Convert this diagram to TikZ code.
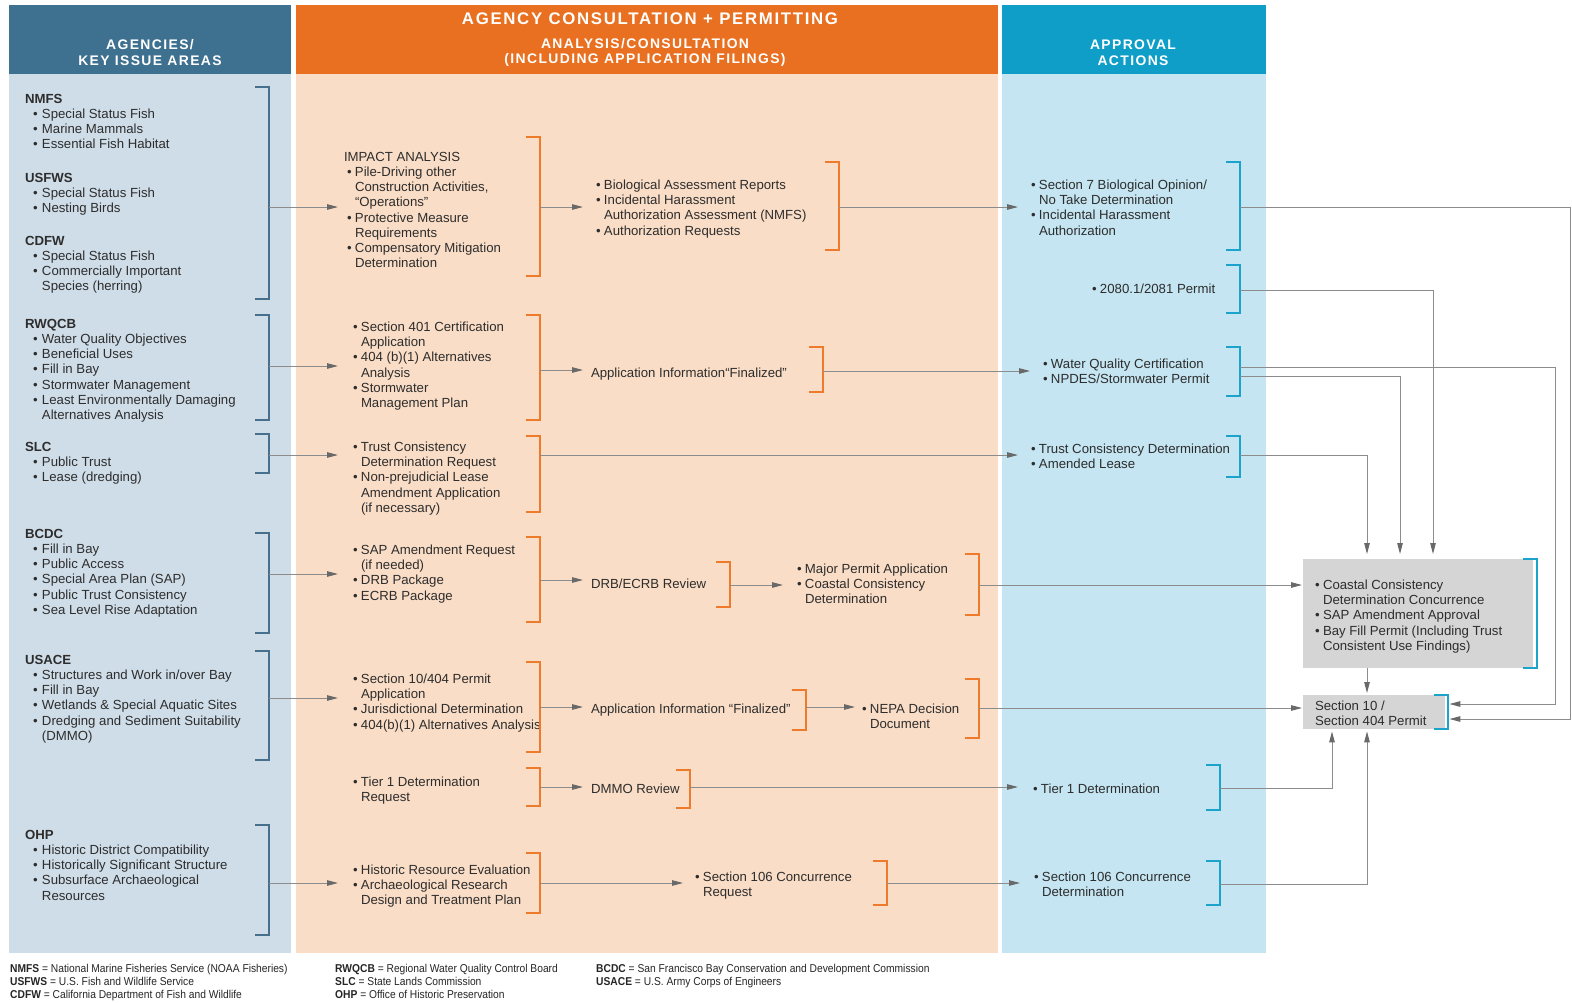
\documentclass[tikz,border=0pt]{standalone}
\usepackage{fontspec}
\setmainfont{Liberation Sans}
\newfontfamily\hdrfont[LetterSpace=10]{Liberation Sans}
\newfontfamily\legfont[FakeStretch=0.9]{Liberation Sans}
\usetikzlibrary{arrows.meta}
\definecolor{hdrL}{RGB}{62,112,143}
\definecolor{bodyL}{RGB}{207,221,232}
\definecolor{hdrM}{RGB}{232,112,32}
\definecolor{bodyM}{RGB}{250,221,198}
\definecolor{hdrR}{RGB}{14,158,199}
\definecolor{bodyR}{RGB}{196,229,241}
\definecolor{brLc}{RGB}{70,112,142}
\definecolor{brOc}{RGB}{238,122,44}
\definecolor{brTc}{RGB}{28,163,204}
\definecolor{boxg}{RGB}{213,213,213}
\definecolor{linec}{RGB}{140,140,140}
\definecolor{arrc}{RGB}{105,105,105}
\definecolor{txtc}{RGB}{45,45,45}
\newcommand{\bu}{\makebox[8pt][l]{\textbullet}}
\newcommand{\cu}{\hspace*{8pt}}
\newcommand{\ib}{\hspace*{8pt}\makebox[9pt][l]{\textbullet}}
\newcommand{\ic}{\hspace*{17pt}}
\newcommand{\brk}[4]{\draw[#1] (#2-14,#3) -- (#2,#3) -- (#2,#4) -- (#2-14,#4);}
\tikzset{
  txt/.style={anchor=north west,inner sep=0pt,outer sep=0pt,align=left,text=txtc,yshift=-2pt,font=\fontsize{13.2}{15.2}\selectfont},
  hdr/.style={text=white,align=center,inner sep=0pt,font=\hdrfont\bfseries\fontsize{13.9}{15.5}\selectfont},
  brL/.style={draw=brLc,line width=2pt},
  brO/.style={draw=brOc,line width=2.5pt},
  brT/.style={draw=brTc,line width=2.5pt},
  con/.style={draw=linec,line width=1pt},
  arr/.style={con,-{Triangle[length=11pt,width=5.5pt,color=arrc]},shorten >=13pt},
  gbox/.style={fill=boxg,draw=none,anchor=north west,inner sep=0pt},
  leg/.style={anchor=north west,inner sep=0pt,align=left,text=black!85,font=\legfont\fontsize{11.4}{13}\selectfont}
}
\begin{document}
\begin{tikzpicture}[x=1pt,y=-1pt]
\useasboundingbox (0,0) rectangle (1572,1002);
\fill[white] (0,0) rectangle (1572,1002);
% columns
\fill[hdrL] (9,5) rectangle (291,74);
\fill[bodyL] (9,74) rectangle (291,953);
\fill[hdrM] (296,5) rectangle (998,74);
\fill[bodyM] (296,74) rectangle (998,953);
\fill[hdrR] (1002,5) rectangle (1266,74);
\fill[bodyR] (1002,74) rectangle (1266,953);
% headers
\node[hdr] (hL) at (150,52.5) {AGENCIES/\\KEY ISSUE AREAS};
\node[hdr,font=\hdrfont\bfseries\fontsize{16.8}{18}\selectfont] (hM0) at (650,19) {AGENCY CONSULTATION + PERMITTING};
\node[hdr] (hM) at (645,52.5) {ANALYSIS/CONSULTATION\\(INCLUDING APPLICATION FILINGS)};
\node[hdr] (hR) at (1133,52.5) {APPROVAL\\ACTIONS};

% left column
\node[txt] (nmfs) at (25,92) {\textbf{NMFS}\\\ib Special Status Fish\\\ib Marine Mammals\\\ib Essential Fish Habitat};
\node[txt] (usfws) at (25,171) {\textbf{USFWS}\\\ib Special Status Fish\\\ib Nesting Birds};
\node[txt] (cdfw) at (25,234) {\textbf{CDFW}\\\ib Special Status Fish\\\ib Commercially Important\\\ic Species (herring)};
\node[txt] (rwqcb) at (25,317) {\textbf{RWQCB}\\\ib Water Quality Objectives\\\ib Beneficial Uses\\\ib Fill in Bay\\\ib Stormwater Management\\\ib Least Environmentally Damaging\\\ic Alternatives Analysis};
\node[txt] (slc) at (25,440) {\textbf{SLC}\\\ib Public Trust\\\ib Lease (dredging)};
\node[txt] (bcdc) at (25,527) {\textbf{BCDC}\\\ib Fill in Bay\\\ib Public Access\\\ib Special Area Plan (SAP)\\\ib Public Trust Consistency\\\ib Sea Level Rise Adaptation};
\node[txt] (usace) at (25,653) {\textbf{USACE}\\\ib Structures and Work in/over Bay\\\ib Fill in Bay\\\ib Wetlands \& Special Aquatic Sites\\\ib Dredging and Sediment Suitability\\\ic (DMMO)};
\node[txt] (ohp) at (25,828) {\textbf{OHP}\\\ib Historic District Compatibility\\\ib Historically Significant Structure\\\ib Subsurface Archaeological\\\ic Resources};
\brk{brL}{269}{87}{299}
\brk{brL}{269}{315}{420}
\brk{brL}{269}{434}{473}
\brk{brL}{269}{533}{633}
\brk{brL}{269}{651}{760}
\brk{brL}{269}{825}{935}
\coordinate (b1) at (269,207);
\coordinate (b2) at (269,366);
\coordinate (b3) at (269,455);
\coordinate (b4) at (269,574);
\coordinate (b5) at (269,698);
\coordinate (b6) at (269,883);

% middle column, first level
\node[txt] (imp) at (344,150) {IMPACT ANALYSIS\\\hspace*{3pt}\bu Pile-Driving other\\\hspace*{11pt}Construction Activities,\\\hspace*{11pt}“Operations”\\\hspace*{3pt}\bu Protective Measure\\\hspace*{11pt}Requirements\\\hspace*{3pt}\bu Compensatory Mitigation\\\hspace*{11pt}Determination};
\node[txt] (s401) at (353,320) {\bu Section 401 Certification\\\cu Application\\\bu 404 (b)(1) Alternatives\\\cu Analysis\\\bu Stormwater\\\cu Management Plan};
\node[txt] (trust) at (353,440) {\bu Trust Consistency\\\cu Determination Request\\\bu Non-prejudicial Lease\\\cu Amendment Application\\\cu (if necessary)};
\node[txt] (sap) at (353,543) {\bu SAP Amendment Request\\\cu (if needed)\\\bu DRB Package\\\bu ECRB Package};
\node[txt] (s10) at (353,672) {\bu Section 10/404 Permit\\\cu Application\\\bu Jurisdictional Determination\\\bu 404(b)(1) Alternatives Analysis};
\node[txt] (tier) at (353,775) {\bu Tier 1 Determination\\\cu Request};
\node[txt] (hist) at (353,863) {\bu Historic Resource Evaluation\\\bu Archaeological Research\\\cu Design and Treatment Plan};
\brk{brO}{540}{137}{276}
\brk{brO}{540}{315}{420}
\brk{brO}{540}{436}{512}
\brk{brO}{540}{537}{622}
\brk{brO}{540}{662}{752}
\brk{brO}{540}{768}{806}
\brk{brO}{540}{853}{913}
\coordinate (o1) at (540,207);
\coordinate (o2) at (540,370);
\coordinate (o3) at (540,455);
\coordinate (o4) at (540,580);
\coordinate (o5) at (540,707);
\coordinate (o6) at (540,787);
\coordinate (o7) at (540,883);

% middle column, second level
\node[txt] (bio) at (596,178) {\bu Biological Assessment Reports\\\bu Incidental Harassment\\\cu Authorization Assessment (NMFS)\\\bu Authorization Requests};
\node[txt] (app1) at (591,366) {Application Information“Finalized”};
\node[txt] (drb) at (591,577) {DRB/ECRB Review};
\node[txt] (major) at (797,562) {\bu Major Permit Application\\\bu Coastal Consistency\\\cu Determination};
\node[txt] (app2) at (591,702) {Application Information “Finalized”};
\node[txt] (nepa) at (862,702) {\bu NEPA Decision\\\cu Document};
\node[txt] (dmmo) at (591,782) {DMMO Review};
\node[txt] (s106r) at (695,870) {\bu Section 106 Concurrence\\\cu Request};
\brk{brO}{839}{162}{250}
\brk{brO}{823}{347}{392}
\brk{brO}{730}{562}{607}
\brk{brO}{979}{554}{615}
\brk{brO}{806}{690}{730}
\brk{brO}{979}{679}{738}
\brk{brO}{690}{770}{808}
\brk{brO}{887}{861}{905}
\coordinate (o8) at (839,207);
\coordinate (o9) at (823,371);
\coordinate (o10) at (730,585);
\coordinate (o11) at (979,585);
\coordinate (o12) at (806,707);
\coordinate (o13) at (979,708);
\coordinate (o14) at (690,787);
\coordinate (o15) at (887,883);

% right column
\node[txt] (bo) at (1031,178) {\bu Section 7 Biological Opinion/\\\cu No Take Determination\\\bu Incidental Harassment\\\cu Authorization};
\node[txt] (perm) at (1092,282) {\bu 2080.1/2081 Permit};
\node[txt] (wq) at (1043,357) {\bu Water Quality Certification\\\bu NPDES/Stormwater Permit};
\node[txt] (trd) at (1031,442) {\bu Trust Consistency Determination\\\bu Amended Lease};
\node[txt] (t1d) at (1033,782) {\bu Tier 1 Determination};
\node[txt] (s106d) at (1034,870) {\bu Section 106 Concurrence\\\cu Determination};
\brk{brT}{1240}{162}{250}
\brk{brT}{1240}{265}{313}
\brk{brT}{1240}{347}{396}
\brk{brT}{1240}{436}{477}
\brk{brT}{1220}{765}{810}
\brk{brT}{1220}{861}{905}
\coordinate (t1) at (1240,207);
\coordinate (t2) at (1240,290);
\coordinate (t3a) at (1240,367);
\coordinate (t3b) at (1240,376);
\coordinate (t4) at (1240,455);
\coordinate (t5) at (1220,788);
\coordinate (t6) at (1220,884);

% grey boxes
\node[gbox,minimum width=230,minimum height=109] (bay) at (1303,559) {};
\node[txt] (baytxt) at (1315,578) {\bu Coastal Consistency\\\cu Determination Concurrence\\\bu SAP Amendment Approval\\\bu Bay Fill Permit (Including Trust\\\cu Consistent Use Findings)};
\brk{brT}{1537}{559}{668}
\node[gbox,minimum width=142,minimum height=34] (sec10) at (1303,695) {};
\node[txt] (sec10txt) at (1315,699) {Section 10 /\\Section 404 Permit};
\brk{brT}{1448}{695}{729}

% connectors left -> middle
\draw[arr,shorten >=6pt] (b1) -- (b1 -| imp.west);
\draw[arr,shorten >=15pt] (b2) -- (b2 -| s401.west);
\draw[arr,shorten >=15pt] (b3) -- (b3 -| trust.west);
\draw[arr,shorten >=15pt] (b4) -- (b4 -| sap.west);
\draw[arr,shorten >=15pt] (b5) -- (b5 -| s10.west);
\draw[arr,shorten >=15pt] (b6) -- (b6 -| hist.west);
% middle internal
\draw[arr] (o1) -- (o1 -| bio.west);
\draw[arr,shorten >=8pt] (o2) -- (o2 -| app1.west);
\draw[arr,shorten >=8pt] (o4) -- (o4 -| drb.west);
\draw[arr,shorten >=14pt] (o10) -- (o10 -| major.west);
\draw[arr,shorten >=8pt] (o5) -- (o5 -| app2.west);
\draw[arr,shorten >=7pt] (o12) -- (o12 -| nepa.west);
\draw[arr,shorten >=8pt] (o6) -- (o6 -| dmmo.west);
\draw[arr,shorten >=12pt] (o7) -- (o7 -| s106r.west);
% middle -> right
\draw[arr] (o3) -- (o3 -| trd.west);
\draw[arr] (o8) -- (o8 -| bo.west);
\draw[arr] (o9) -- (o9 -| wq.west);
\draw[arr,shorten >=15pt] (o14) -- (o14 -| t1d.west);
\draw[arr,shorten >=14pt] (o15) -- (o15 -| s106d.west);
\draw[arr,shorten >=1pt] (o11) -- (o11 -| bay.west);
\draw[arr,shorten >=1pt] (o13) -- (o13 -| sec10.west);
% right -> grey boxes
\draw[arr,shorten >=4pt] (t1) -| (1570,719) -- (sec10.east |- 0,719);
\draw[arr,shorten >=4pt] (t3a) -| (1555,704) -- (sec10.east |- 0,704);
\draw[arr,shorten >=5pt] (t2) -| (1433,0 |- bay.north);
\draw[arr,shorten >=5pt] (t3b) -| (1400,0 |- bay.north);
\draw[arr,shorten >=5pt] (t4) -| (1367,0 |- bay.north);
\draw[arr,shorten >=2pt] (1367,0 |- bay.south) -- (1367,0 |- sec10.north);
\draw[arr,shorten >=2pt] (t5) -| (1332,0 |- sec10.south);
\draw[arr,shorten >=2pt] (t6) -| (1367,0 |- sec10.south);

% legend
\node[leg] (leg1) at (10,964) {\textbf{NMFS} = National Marine Fisheries Service (NOAA Fisheries)\\\textbf{USFWS} = U.S. Fish and Wildlife Service\\\textbf{CDFW} = California Department of Fish and Wildlife};
\node[leg] (leg2) at (335,964) {\textbf{RWQCB} = Regional Water Quality Control Board\\\textbf{SLC} = State Lands Commission\\\textbf{OHP} = Office of Historic Preservation};
\node[leg] (leg3) at (596,964) {\textbf{BCDC} = San Francisco Bay Conservation and Development Commission\\\textbf{USACE} = U.S. Army Corps of Engineers};
\end{tikzpicture}
\end{document}
